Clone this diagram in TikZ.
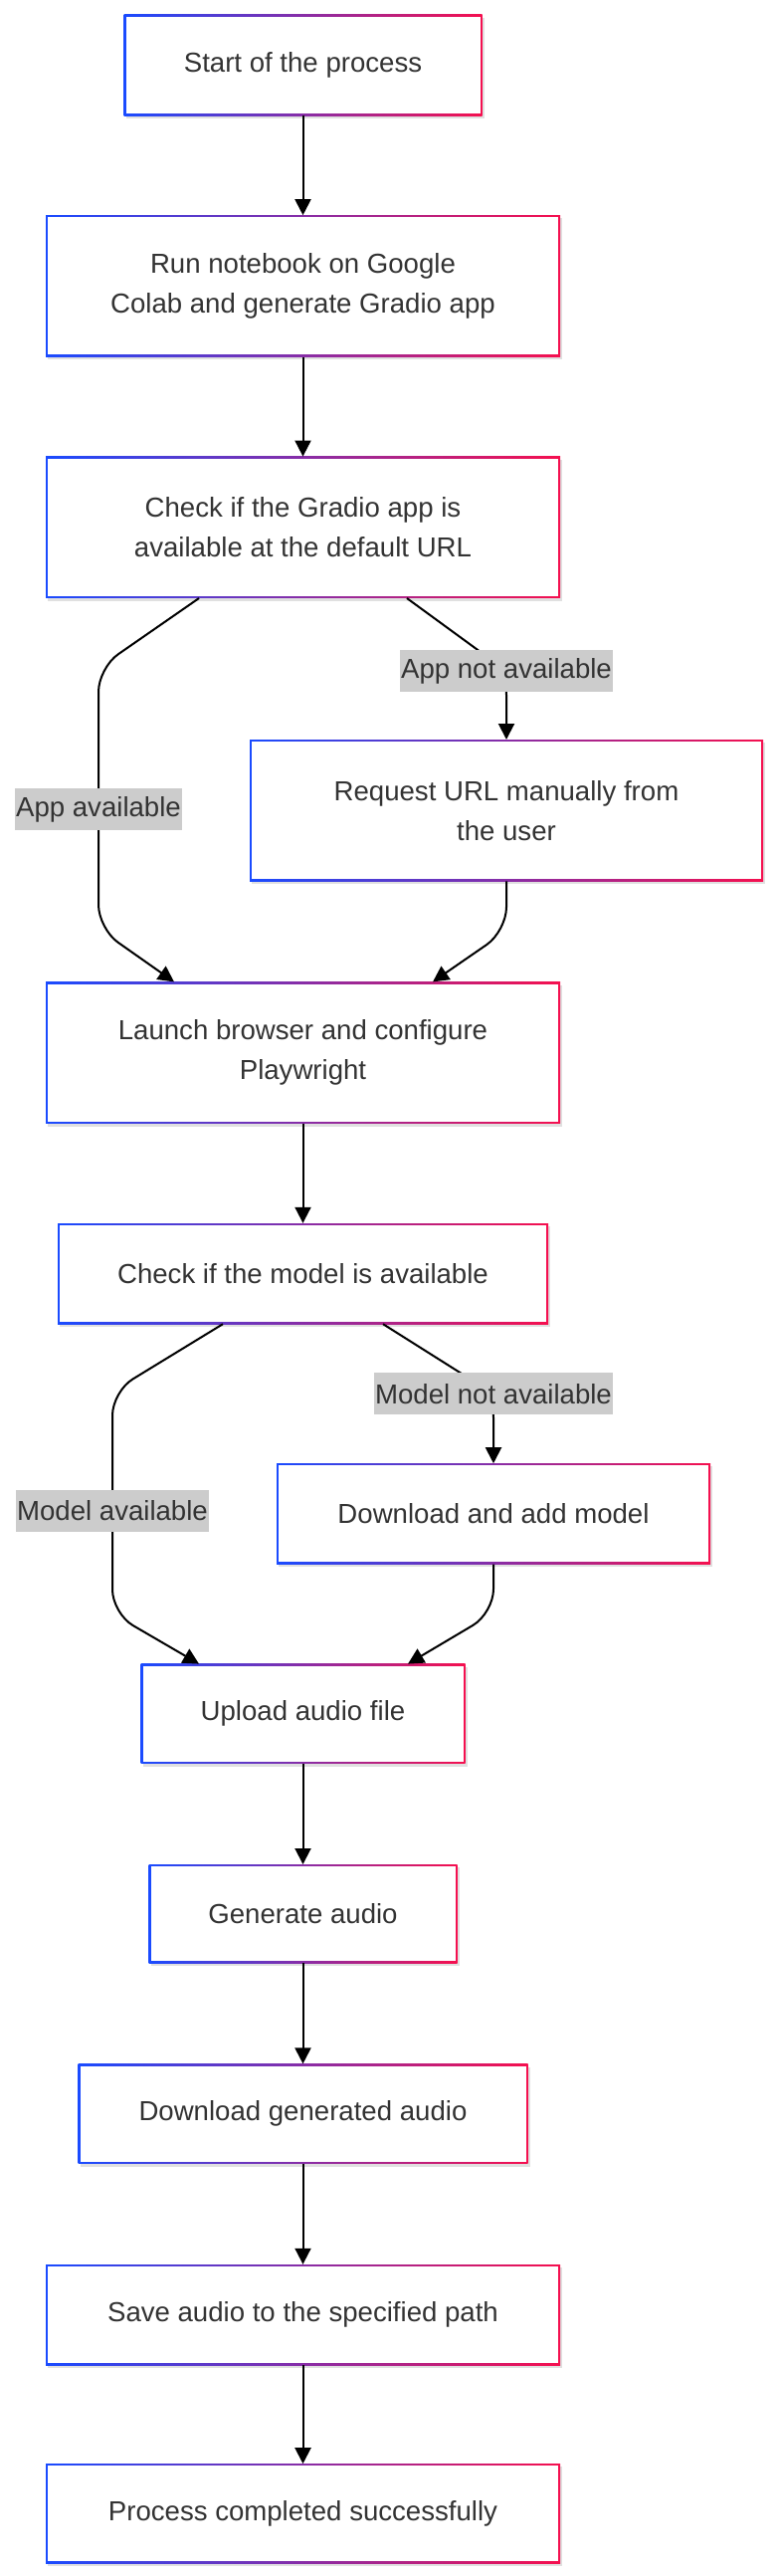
\documentclass[tikz,border=0pt]{standalone}
\usepackage{fontspec}
\setmainfont{Liberation Sans}
\usepackage{xcolor}
\usepackage{tikz}
\usetikzlibrary{arrows.meta,positioning,shadows}

\definecolor{cblue}{HTML}{1A4BFF}
\definecolor{cred}{HTML}{F5104F}
\definecolor{txt}{HTML}{333333}
\definecolor{lblgray}{HTML}{CCCCCC}

\begin{document}
\begin{tikzpicture}[
    box/.style={rectangle, inner sep=0pt, align=center, text=txt, font=\fontsize{27.6}{40}\selectfont,
        drop shadow={shadow xshift=2pt, shadow yshift=-3pt, opacity=0.12, fill=black},
        left color=cblue, right color=cred,
        path picture={\fill[white] ([shift={(2pt,2pt)}]path picture bounding box.south west) rectangle ([shift={(-2pt,-2pt)}]path picture bounding box.north east);}},
    tall/.style={box, minimum height=142pt},
    short/.style={box, minimum height=101pt},
    lbl/.style={rectangle, fill=lblgray, text=txt, font=\fontsize{27.6}{40}\selectfont, inner xsep=1pt, inner ysep=0pt, minimum height=42pt},
    arr/.style={-{Triangle[length=16pt,width=16pt]}, line width=2pt, draw=black},
    elbow/.style={arr, rounded corners=24pt}
]
    \useasboundingbox (0pt,0pt) rectangle (784pt,-2588pt);

    \node [short, minimum width=360pt] (start) at (304.5pt,-65.5pt) {Start of the process};
    \node [tall, minimum width=517pt, below=100pt of start] (colab) {Run notebook on Google\\Colab and generate Gradio app};
    \node [tall, minimum width=517pt, below=100pt of colab] (chkapp) {Check if the Gradio app is\\available at the default URL};
    \node [tall, minimum width=516pt, below=142pt of chkapp, xshift=204.5pt] (askurl) {Request URL manually from\\the user};
    \node [tall, minimum width=517pt, below=101pt of askurl, xshift=-204.5pt] (launch) {Launch browser and configure\\Playwright};
    \node [short, minimum width=493pt, below=100pt of launch] (chkmodel) {Check if the model is available};
    \node [short, minimum width=436pt, below=140pt of chkmodel, xshift=191.5pt] (addmodel) {Download and add model};
    \node [short, minimum width=326pt, minimum height=100pt, below=100pt of addmodel, xshift=-191.5pt] (upload) {Upload audio file};
    \node [short, minimum width=310pt, minimum height=99pt, below=101pt of upload] (gen) {Generate audio};
    \node [short, minimum width=452pt, minimum height=100pt, below=101pt of gen] (dlgen) {Download generated audio};
    \node [short, minimum width=517pt, below=101pt of dlgen] (save) {Save audio to the specified path};
    \node [short, minimum width=517pt, minimum height=100pt, below=99pt of save] (done) {Process completed successfully};

    % main chain
    \draw [arr] (start) -- (colab);
    \draw [arr] (colab) -- (chkapp);
    \draw [arr] (launch) -- (chkmodel);
    \draw [arr] (upload) -- (gen);
    \draw [arr] (gen) -- (dlgen);
    \draw [arr] (dlgen) -- (save);
    \draw [arr] (save) -- (done);

    % app check branches
    \draw [elbow] ([xshift=-104.5pt]chkapp.south) -- (99pt,-671pt) -- (99pt,-933pt) -- ([xshift=-129.5pt]launch.north);
    \draw [elbow] ([xshift=104.5pt]chkapp.south) -- ([yshift=69pt]askurl.north) -- (askurl.north);
    \draw [elbow] (askurl.south) -- ([yshift=-50pt]askurl.south) -- ([xshift=130.5pt]launch.north);
    \node [lbl] (appyes) at (99pt,-813pt) {App available};
    \node [lbl] (appno) at ([yshift=69pt]askurl.north) {App not available};

    % model check branches
    \draw [elbow] ([xshift=-80.5pt]chkmodel.south) -- (113pt,-1398pt) -- (113pt,-1621pt) -- ([xshift=-104.5pt]upload.north);
    \draw [elbow] ([xshift=80.5pt]chkmodel.south) -- ([yshift=70pt]addmodel.north) -- (addmodel.north);
    \draw [elbow] (addmodel.south) -- ([yshift=-49pt]addmodel.south) -- ([xshift=105.5pt]upload.north);
    \node [lbl] (modelyes) at (113pt,-1518pt) {Model available};
    \node [lbl] (modelno) at ([yshift=70pt]addmodel.north) {Model not available};
\end{tikzpicture}
\end{document}
